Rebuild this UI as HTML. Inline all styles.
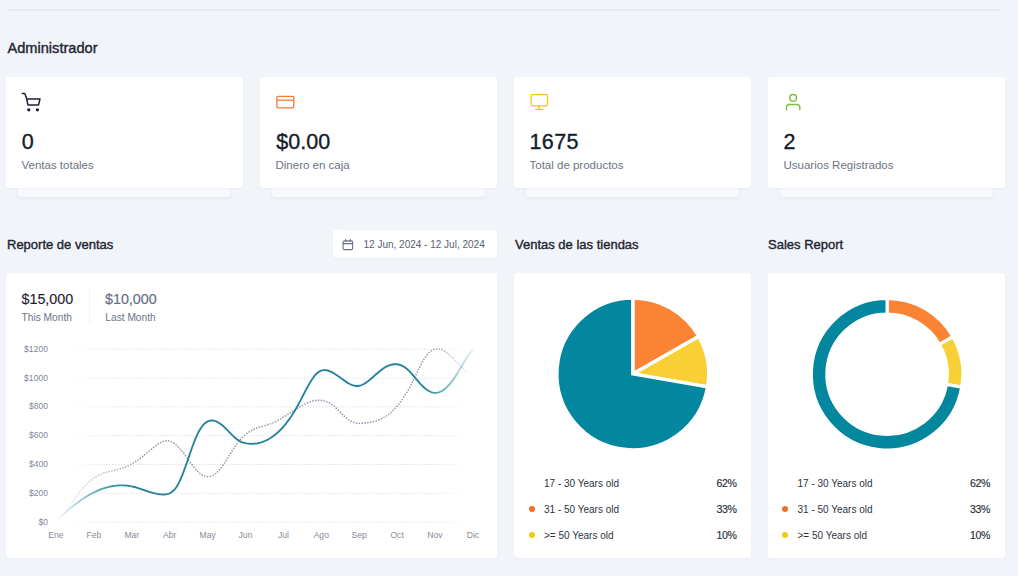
<!DOCTYPE html>
<html><head><meta charset="utf-8">
<style>
*{box-sizing:border-box;margin:0;padding:0}
html,body{width:1018px;height:576px;overflow:hidden;background:#f1f4f9;font-family:"Liberation Sans",sans-serif;color:#1e2433}
.abs{position:absolute}
.topline{left:8px;top:9px;width:992px;height:2px;background:#e6e9ef}
.h{position:absolute;font-size:14px;color:#1f2532;white-space:nowrap;-webkit-text-stroke:0.38px #1f2532;line-height:1}
.card{position:absolute;background:#fff;border-radius:3.5px;box-shadow:0 1px 3px rgba(30,40,70,.03)}
.under{position:absolute;background:#f8f9fc;border-radius:0 0 4px 4px;box-shadow:0 2px 4px rgba(30,40,70,.05)}
.num{position:absolute;font-size:21.5px;color:#141b2b;line-height:1;white-space:nowrap;-webkit-text-stroke:0.35px #141b2b}
.lbl{position:absolute;font-size:11.5px;color:#6b7385;line-height:1;white-space:nowrap}
.ico{position:absolute}
.yl{position:absolute;font-size:8.6px;color:#7f8796;line-height:1;text-align:right;width:40px;white-space:nowrap}
.xl{position:absolute;font-size:8.6px;color:#858c99;line-height:1;text-align:center;width:30px;white-space:nowrap}
.lg{position:absolute;font-size:10px;color:#2d3340;line-height:1;white-space:nowrap}
.pc{position:absolute;font-size:10.6px;color:#2a303c;line-height:1;white-space:nowrap;text-align:right;width:40px;letter-spacing:-0.4px;-webkit-text-stroke:0.15px #2a303c}
.dot{position:absolute;width:6px;height:6px;border-radius:50%}
</style></head>
<body>
<div class="abs topline"></div>
<div class="h" style="left:7.5px;top:41px;font-size:14.6px">Administrador</div>

<!-- stat cards -->
<div class="under" style="left:18px;top:186px;width:213px;height:11px"></div>
<div class="under" style="left:272px;top:186px;width:213px;height:11px"></div>
<div class="under" style="left:526px;top:186px;width:213px;height:11px"></div>
<div class="under" style="left:780px;top:186px;width:213px;height:11px"></div>
<div class="card" style="left:6px;top:77px;width:237px;height:111px"></div>
<div class="card" style="left:260px;top:77px;width:237px;height:111px"></div>
<div class="card" style="left:514px;top:77px;width:237px;height:111px"></div>
<div class="card" style="left:768px;top:77px;width:237px;height:111px"></div>

<svg class="ico" style="left:18px;top:89px" width="28" height="26" viewBox="0 0 28 26" fill="none" stroke="#1b2130" stroke-width="1.5" stroke-linecap="round" stroke-linejoin="round">
<path d="M4.3 4.6H6.2Q7 4.6 7.2 5.4L8.7 9.9L9.9 15.9H20.6L22 9.9H8.7"/>
<circle cx="10.8" cy="20.8" r="0.9" fill="#1b2130"/><circle cx="19.4" cy="20.8" r="0.9" fill="#1b2130"/>
</svg>
<svg class="ico" style="left:272px;top:90px" width="28" height="24" viewBox="0 0 28 24" fill="none" stroke="#ee7d3b" stroke-width="1.3">
<rect x="4.85" y="6.45" width="17" height="11.4" rx="1.6"/><path d="M4.85 10.2H21.85"/>
</svg>
<svg class="ico" style="left:526px;top:88px" width="28" height="26" viewBox="0 0 28 26" fill="none" stroke="#f3c419" stroke-width="1.3" stroke-linecap="round">
<rect x="5.1" y="6.7" width="16.4" height="11.2" rx="1.4"/><path d="M13.1 17.9V21.2M9.7 21.4H17.2"/>
</svg>
<svg class="ico" style="left:780px;top:88px" width="28" height="26" viewBox="0 0 28 26" fill="none" stroke="#7fbd45" stroke-width="1.4" stroke-linecap="round">
<circle cx="13.1" cy="9.9" r="3.4"/><path d="M6.5 21.8V19.2A3 3 0 0 1 9.5 16.5H16.8A3 3 0 0 1 19.8 19.5V21.8"/>
</svg>

<div class="num" style="left:21.7px;top:131.6px">0</div>
<div class="lbl" style="left:21.5px;top:159.7px">Ventas totales</div>
<div class="num" style="left:276.3px;top:131.6px">$0.00</div>
<div class="lbl" style="left:275.5px;top:159.7px">Dinero en caja</div>
<div class="num" style="left:529.5px;top:131.6px;letter-spacing:0.4px">1675</div>
<div class="lbl" style="left:529.5px;top:159.7px">Total de productos</div>
<div class="num" style="left:783.5px;top:131.6px">2</div>
<div class="lbl" style="left:783.5px;top:159.7px">Usuarios Registrados</div>

<!-- section titles -->
<div class="h" style="left:7px;top:237.6px;font-size:13px">Reporte de ventas</div>
<div class="h" style="left:515px;top:237.6px;font-size:13px">Ventas de las tiendas</div>
<div class="h" style="left:768px;top:237.6px;font-size:13px">Sales Report</div>

<!-- date picker -->
<div class="card" style="left:333px;top:230px;width:164px;height:28px;border-radius:4px"></div>
<svg class="ico" style="left:340px;top:237px" width="16" height="16" viewBox="0 0 16 16" fill="none" stroke="#6b7280" stroke-width="1.1" stroke-linecap="round">
<rect x="3.1" y="3.9" width="9.5" height="8.7" rx="1.4"/><path d="M3.1 6.6H12.6M5.6 2.3V4.4M10.1 2.3V4.4"/>
</svg>
<div class="lbl" style="left:363.5px;top:240px;font-size:10px;color:#5a6270">12 Jun, 2024 - 12 Jul, 2024</div>

<!-- bottom cards -->
<div class="card" style="left:6px;top:273px;width:491px;height:285px"></div>
<div class="card" style="left:514px;top:273px;width:237px;height:285px"></div>
<div class="card" style="left:768px;top:273px;width:237px;height:285px"></div>

<div class="num" style="left:21.5px;top:292px;font-size:14.3px;color:#1a2030;-webkit-text-stroke:0.12px #1a2030">$15,000</div>
<div class="lbl" style="left:21.5px;top:312.7px;font-size:10.2px">This Month</div>
<div class="abs" style="left:89px;top:288px;height:35px;border-left:1px dotted #e3e6ec"></div>
<div class="num" style="left:105px;top:292px;font-size:14.3px;color:#667085;-webkit-text-stroke:0.2px #667085">$10,000</div>
<div class="lbl" style="left:105.3px;top:312.7px;font-size:10.2px">Last Month</div>

<!-- CHARTS -->
<svg class="abs" style="left:0;top:0" width="1018" height="576" viewBox="0 0 1018 576">
<defs>
<linearGradient id="gg" gradientUnits="userSpaceOnUse" x1="64" y1="0" x2="470" y2="0">
<stop offset="0" stop-color="#dde1e8" stop-opacity="0"/><stop offset="0.05" stop-color="#dde1e8" stop-opacity="0.3"/><stop offset="0.1" stop-color="#dde1e8" stop-opacity="1"/><stop offset="0.91" stop-color="#dde1e8" stop-opacity="1"/><stop offset="0.97" stop-color="#dde1e8" stop-opacity="0.3"/><stop offset="1" stop-color="#dde1e8" stop-opacity="0"/>
</linearGradient>
<linearGradient id="tg" gradientUnits="userSpaceOnUse" x1="56" y1="0" x2="474" y2="0">
<stop offset="0" stop-color="#23839a" stop-opacity="0"/><stop offset="0.1" stop-color="#23839a" stop-opacity="0.7"/><stop offset="0.18" stop-color="#23839a" stop-opacity="1"/><stop offset="0.88" stop-color="#23839a" stop-opacity="1"/><stop offset="0.95" stop-color="#23839a" stop-opacity="0.5"/><stop offset="1" stop-color="#23839a" stop-opacity="0.08"/>
</linearGradient>
<linearGradient id="dg" gradientUnits="userSpaceOnUse" x1="56" y1="0" x2="474" y2="0">
<stop offset="0" stop-color="#939ba8" stop-opacity="0"/><stop offset="0.12" stop-color="#939ba8" stop-opacity="0.7"/><stop offset="0.2" stop-color="#939ba8" stop-opacity="1"/><stop offset="0.9" stop-color="#939ba8" stop-opacity="1"/><stop offset="1" stop-color="#939ba8" stop-opacity="0"/>
</linearGradient>
</defs>
<g stroke="url(#gg)" stroke-width="1" stroke-dasharray="1.5 1.5" fill="none"><line x1="64" y1="349.2" x2="470" y2="349.2"/><line x1="64" y1="378.0" x2="470" y2="378.0"/><line x1="64" y1="406.8" x2="470" y2="406.8"/><line x1="64" y1="435.7" x2="470" y2="435.7"/><line x1="64" y1="464.5" x2="470" y2="464.5"/><line x1="64" y1="493.3" x2="470" y2="493.3"/><line x1="64" y1="522.1" x2="470" y2="522.1"/></g>
<path d="M56.3 521.05 L57.8 519.65 L59.3 518.15 L60.8 516.54 L62.3 514.85 L63.8 513.08 L65.3 511.24 L66.8 509.35 L68.3 507.41 L69.8 505.44 L71.3 503.44 L72.8 501.44 L74.3 499.43 L75.8 497.43 L77.3 495.45 L78.8 493.50 L80.3 491.59 L81.8 489.73 L83.3 487.94 L84.8 486.22 L86.3 484.59 L87.8 483.05 L89.3 481.62 L90.8 480.31 L92.3 479.11 L93.8 478.03 L95.3 477.05 L96.8 476.17 L98.3 475.37 L99.8 474.65 L101.3 474.01 L102.8 473.43 L104.3 472.91 L105.8 472.43 L107.3 472.00 L108.8 471.60 L110.3 471.22 L111.8 470.86 L113.3 470.51 L114.8 470.15 L116.3 469.79 L117.8 469.42 L119.3 469.02 L120.8 468.60 L122.3 468.13 L123.8 467.62 L125.3 467.05 L126.8 466.42 L128.3 465.72 L129.8 464.96 L131.3 464.13 L132.8 463.25 L134.3 462.32 L135.8 461.34 L137.3 460.31 L138.8 459.24 L140.3 458.14 L141.8 457.00 L143.3 455.84 L144.8 454.65 L146.3 453.44 L147.8 452.22 L149.3 450.99 L150.8 449.74 L152.3 448.49 L153.8 447.26 L155.3 446.06 L156.8 444.92 L158.3 443.86 L159.8 442.91 L161.3 442.09 L162.8 441.42 L164.3 440.93 L165.8 440.65 L167.3 440.60 L168.8 440.79 L170.3 441.23 L171.8 441.90 L173.3 442.78 L174.8 443.85 L176.3 445.11 L177.8 446.53 L179.3 448.09 L180.8 449.78 L182.3 451.59 L183.8 453.49 L185.3 455.47 L186.8 457.52 L188.3 459.61 L189.8 461.72 L191.3 463.80 L192.8 465.83 L194.3 467.74 L195.8 469.50 L197.3 471.09 L198.8 472.48 L200.3 473.68 L201.8 474.68 L203.3 475.47 L204.8 476.06 L206.3 476.43 L207.8 476.59 L209.3 476.51 L210.8 476.21 L212.3 475.67 L213.8 474.90 L215.3 473.87 L216.8 472.60 L218.3 471.09 L219.8 469.35 L221.3 467.44 L222.8 465.36 L224.3 463.17 L225.8 460.87 L227.3 458.51 L228.8 456.12 L230.3 453.71 L231.8 451.34 L233.3 449.02 L234.8 446.78 L236.3 444.66 L237.8 442.66 L239.3 440.80 L240.8 439.07 L242.3 437.47 L243.8 436.00 L245.3 434.66 L246.8 433.46 L248.3 432.38 L249.8 431.41 L251.3 430.54 L252.8 429.76 L254.3 429.07 L255.8 428.44 L257.3 427.87 L258.8 427.34 L260.3 426.86 L261.8 426.40 L263.3 425.96 L264.8 425.52 L266.3 425.08 L267.8 424.62 L269.3 424.13 L270.8 423.61 L272.3 423.04 L273.8 422.41 L275.3 421.73 L276.8 420.99 L278.3 420.20 L279.8 419.36 L281.3 418.49 L282.8 417.59 L284.3 416.66 L285.8 415.71 L287.3 414.74 L288.8 413.76 L290.3 412.78 L291.8 411.79 L293.3 410.82 L294.8 409.85 L296.3 408.89 L297.8 407.96 L299.3 407.06 L300.8 406.19 L302.3 405.35 L303.8 404.56 L305.3 403.81 L306.8 403.12 L308.3 402.49 L309.8 401.92 L311.3 401.43 L312.8 401.00 L314.3 400.66 L315.8 400.41 L317.3 400.24 L318.8 400.17 L320.3 400.21 L321.8 400.35 L323.3 400.60 L324.8 400.98 L326.3 401.47 L327.8 402.10 L329.3 402.86 L330.8 403.75 L332.3 404.80 L333.8 405.99 L335.3 407.29 L336.8 408.69 L338.3 410.16 L339.8 411.66 L341.3 413.17 L342.8 414.67 L344.3 416.11 L345.8 417.49 L347.3 418.76 L348.8 419.90 L350.3 420.88 L351.8 421.68 L353.3 422.29 L354.8 422.72 L356.3 423.01 L357.8 423.17 L359.3 423.23 L360.8 423.21 L362.3 423.15 L363.8 423.05 L365.3 422.92 L366.8 422.77 L368.3 422.58 L369.8 422.35 L371.3 422.08 L372.8 421.76 L374.3 421.38 L375.8 420.95 L377.3 420.45 L378.8 419.89 L380.3 419.25 L381.8 418.54 L383.3 417.74 L384.8 416.86 L386.3 415.89 L387.8 414.83 L389.3 413.67 L390.8 412.42 L392.3 411.07 L393.8 409.62 L395.3 408.06 L396.8 406.39 L398.3 404.62 L399.8 402.73 L401.3 400.73 L402.8 398.61 L404.3 396.38 L405.8 394.01 L407.3 391.53 L408.8 388.91 L410.3 386.17 L411.8 383.29 L413.3 380.28 L414.8 377.20 L416.3 374.07 L417.8 370.96 L419.3 367.90 L420.8 364.94 L422.3 362.13 L423.8 359.51 L425.3 357.13 L426.8 355.04 L428.3 353.27 L429.8 351.82 L431.3 350.67 L432.8 349.81 L434.3 349.23 L435.8 348.89 L437.3 348.80 L438.8 348.93 L440.3 349.27 L441.8 349.80 L443.3 350.50 L444.8 351.36 L446.3 352.37 L447.8 353.50 L449.3 354.74 L450.8 356.07 L452.3 357.49 L453.8 358.96 L455.3 360.48 L456.8 362.04 L458.3 363.60 L459.8 365.16 L461.3 366.71 L462.8 368.22 L464.3 369.68 L465.8 371.07 L467.3 372.38 L468.8 373.59 L470.3 374.69 L470.8 375.02" fill="none" stroke="url(#dg)" stroke-width="1.7" stroke-linecap="round" stroke-dasharray="0 2.85"/>
<path d="M56.3 521.00 L57.8 519.53 L59.3 518.08 L60.8 516.65 L62.3 515.25 L63.8 513.88 L65.3 512.53 L66.8 511.21 L68.3 509.91 L69.8 508.64 L71.3 507.41 L72.8 506.19 L74.3 505.01 L75.8 503.86 L77.3 502.74 L78.8 501.64 L80.3 500.58 L81.8 499.55 L83.3 498.55 L84.8 497.59 L86.3 496.65 L87.8 495.75 L89.3 494.89 L90.8 494.06 L92.3 493.26 L93.8 492.50 L95.3 491.77 L96.8 491.08 L98.3 490.43 L99.8 489.81 L101.3 489.23 L102.8 488.69 L104.3 488.19 L105.8 487.73 L107.3 487.31 L108.8 486.92 L110.3 486.58 L111.8 486.28 L113.3 486.02 L114.8 485.80 L116.3 485.63 L117.8 485.49 L119.3 485.41 L120.8 485.36 L122.3 485.36 L123.8 485.41 L125.3 485.50 L126.8 485.63 L128.3 485.81 L129.8 486.04 L131.3 486.32 L132.8 486.64 L134.3 487.01 L135.8 487.42 L137.3 487.85 L138.8 488.32 L140.3 488.80 L141.8 489.30 L143.3 489.81 L144.8 490.32 L146.3 490.83 L147.8 491.33 L149.3 491.81 L150.8 492.27 L152.3 492.71 L153.8 493.11 L155.3 493.47 L156.8 493.79 L158.3 494.05 L159.8 494.27 L161.3 494.41 L162.8 494.49 L164.3 494.49 L165.8 494.38 L167.3 494.12 L168.8 493.67 L170.3 492.99 L171.8 492.05 L173.3 490.80 L174.8 489.20 L176.3 487.22 L177.8 484.82 L179.3 481.96 L180.8 478.68 L182.3 475.05 L183.8 471.13 L185.3 467.00 L186.8 462.72 L188.3 458.37 L189.8 454.01 L191.3 449.71 L192.8 445.55 L194.3 441.58 L195.8 437.89 L197.3 434.53 L198.8 431.56 L200.3 428.99 L201.8 426.79 L203.3 424.95 L204.8 423.44 L206.3 422.27 L207.8 421.39 L209.3 420.81 L210.8 420.50 L212.3 420.45 L213.8 420.63 L215.3 421.04 L216.8 421.65 L218.3 422.45 L219.8 423.43 L221.3 424.55 L222.8 425.81 L224.3 427.18 L225.8 428.62 L227.3 430.12 L228.8 431.64 L230.3 433.17 L231.8 434.66 L233.3 436.11 L234.8 437.48 L236.3 438.74 L237.8 439.87 L239.3 440.85 L240.8 441.64 L242.3 442.28 L243.8 442.77 L245.3 443.14 L246.8 443.42 L248.3 443.62 L249.8 443.75 L251.3 443.80 L252.8 443.79 L254.3 443.70 L255.8 443.54 L257.3 443.30 L258.8 443.00 L260.3 442.61 L261.8 442.16 L263.3 441.63 L264.8 441.02 L266.3 440.34 L267.8 439.58 L269.3 438.75 L270.8 437.83 L272.3 436.83 L273.8 435.74 L275.3 434.57 L276.8 433.32 L278.3 431.97 L279.8 430.53 L281.3 429.00 L282.8 427.37 L284.3 425.65 L285.8 423.83 L287.3 421.90 L288.8 419.88 L290.3 417.75 L291.8 415.51 L293.3 413.17 L294.8 410.71 L296.3 408.15 L297.8 405.47 L299.3 402.68 L300.8 399.82 L302.3 396.90 L303.8 393.98 L305.3 391.08 L306.8 388.24 L308.3 385.50 L309.8 382.88 L311.3 380.43 L312.8 378.18 L314.3 376.16 L315.8 374.41 L317.3 372.96 L318.8 371.84 L320.3 371.01 L321.8 370.46 L323.3 370.16 L324.8 370.08 L326.3 370.21 L327.8 370.52 L329.3 371.00 L330.8 371.62 L332.3 372.36 L333.8 373.22 L335.3 374.16 L336.8 375.17 L338.3 376.23 L339.8 377.32 L341.3 378.42 L342.8 379.52 L344.3 380.59 L345.8 381.62 L347.3 382.59 L348.8 383.47 L350.3 384.25 L351.8 384.92 L353.3 385.44 L354.8 385.81 L356.3 386.00 L357.8 386.00 L359.3 385.78 L360.8 385.37 L362.3 384.78 L363.8 384.02 L365.3 383.13 L366.8 382.11 L368.3 380.99 L369.8 379.79 L371.3 378.53 L372.8 377.22 L374.3 375.89 L375.8 374.55 L377.3 373.23 L378.8 371.94 L380.3 370.70 L381.8 369.54 L383.3 368.47 L384.8 367.51 L386.3 366.66 L387.8 365.92 L389.3 365.31 L390.8 364.83 L392.3 364.48 L393.8 364.26 L395.3 364.18 L396.8 364.25 L398.3 364.47 L399.8 364.85 L401.3 365.38 L402.8 366.08 L404.3 366.95 L405.8 367.99 L407.3 369.21 L408.8 370.61 L410.3 372.16 L411.8 373.84 L413.3 375.60 L414.8 377.40 L416.3 379.20 L417.8 380.97 L419.3 382.67 L420.8 384.29 L422.3 385.81 L423.8 387.22 L425.3 388.52 L426.8 389.67 L428.3 390.67 L429.8 391.50 L431.3 392.15 L432.8 392.61 L434.3 392.85 L435.8 392.88 L437.3 392.71 L438.8 392.33 L440.3 391.75 L441.8 390.99 L443.3 390.04 L444.8 388.91 L446.3 387.62 L447.8 386.16 L449.3 384.54 L450.8 382.77 L452.3 380.86 L453.8 378.80 L455.3 376.62 L456.8 374.31 L458.3 371.87 L459.8 369.35 L461.3 366.77 L462.8 364.19 L464.3 361.64 L465.8 359.18 L467.3 356.83 L468.8 354.65 L470.3 352.68 L471.8 350.97 L472.7 350.08" fill="none" stroke="url(#tg)" stroke-width="1.85" stroke-linecap="round"/>
<path d="M632.8 373.9L632.80 298.00A75.9 75.9 0 0 1 698.79 336.41Z" fill="#fa8334" stroke="#fff" stroke-width="3.4" stroke-linejoin="miter"/><path d="M632.8 373.9L698.79 336.41A75.9 75.9 0 0 1 707.59 386.82Z" fill="#f9cf36" stroke="#fff" stroke-width="3.4" stroke-linejoin="miter"/><path d="M632.8 373.9L707.59 386.82A75.9 75.9 0 1 1 632.80 298.00Z" fill="#03879f" stroke="#fff" stroke-width="3.4" stroke-linejoin="miter"/>
<path d="M887.10 298.40A75.8 75.8 0 0 1 953.01 336.76L939.44 344.46A60.2 60.2 0 0 0 887.10 314.00Z" fill="#fa8334" stroke="#fff" stroke-width="3.2"/><path d="M953.01 336.76A75.8 75.8 0 0 1 961.79 387.10L946.42 384.45A60.2 60.2 0 0 0 939.44 344.46Z" fill="#f9cf36" stroke="#fff" stroke-width="3.2"/><path d="M961.79 387.10A75.8 75.8 0 1 1 887.10 298.40L887.10 314.00A60.2 60.2 0 1 0 946.42 384.45Z" fill="#03879f" stroke="#fff" stroke-width="3.2"/>
</svg>
<div class="yl" style="left:8px;top:344.7px">$1200</div>
<div class="yl" style="left:8px;top:373.5px">$1000</div>
<div class="yl" style="left:8px;top:402.3px">$800</div>
<div class="yl" style="left:8px;top:431.2px">$600</div>
<div class="yl" style="left:8px;top:460.0px">$400</div>
<div class="yl" style="left:8px;top:488.8px">$200</div>
<div class="yl" style="left:8px;top:517.6px">$0</div>
<div class="xl" style="left:41.0px;top:531px">Ene</div>
<div class="xl" style="left:78.9px;top:531px">Feb</div>
<div class="xl" style="left:116.8px;top:531px">Mar</div>
<div class="xl" style="left:154.7px;top:531px">Abr</div>
<div class="xl" style="left:192.6px;top:531px">May</div>
<div class="xl" style="left:230.5px;top:531px">Jun</div>
<div class="xl" style="left:268.4px;top:531px">Jul</div>
<div class="xl" style="left:306.3px;top:531px">Ago</div>
<div class="xl" style="left:344.2px;top:531px">Sep</div>
<div class="xl" style="left:382.1px;top:531px">Oct</div>
<div class="xl" style="left:420.0px;top:531px">Nov</div>
<div class="xl" style="left:457.9px;top:531px">Dic</div>
<div class="lg" style="left:544.0px;top:478.6px">17 - 30 Years old</div>
<div class="pc" style="left:696.5px;top:478.0px">62%</div>
<div class="lg" style="left:544.0px;top:504.7px">31 - 50 Years old</div>
<div class="pc" style="left:696.5px;top:504.1px">33%</div>
<div class="dot" style="left:528.7px;top:506.3px;background:#f06f24"></div>
<div class="lg" style="left:544.0px;top:530.8px">&gt;= 50 Years old</div>
<div class="pc" style="left:696.5px;top:530.2px">10%</div>
<div class="dot" style="left:528.7px;top:532.4px;background:#f5c911"></div>
<div class="lg" style="left:797.5px;top:478.6px">17 - 30 Years old</div>
<div class="pc" style="left:950.0px;top:478.0px">62%</div>
<div class="lg" style="left:797.5px;top:504.7px">31 - 50 Years old</div>
<div class="pc" style="left:950.0px;top:504.1px">33%</div>
<div class="dot" style="left:782.2px;top:506.3px;background:#f06f24"></div>
<div class="lg" style="left:797.5px;top:530.8px">&gt;= 50 Years old</div>
<div class="pc" style="left:950.0px;top:530.2px">10%</div>
<div class="dot" style="left:782.2px;top:532.4px;background:#f5c911"></div>
</body></html>
